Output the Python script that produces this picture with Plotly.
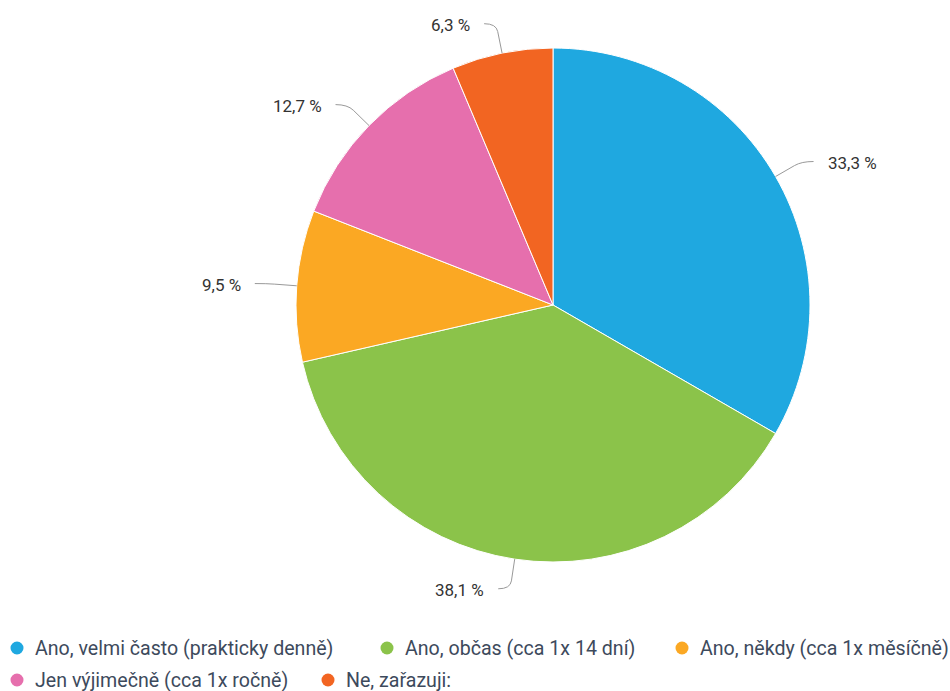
import math
import plotly.graph_objects as go

# ---- data ----
categories = [
    "Ano, velmi často (prakticky denně)",
    "Ano, občas (cca 1x 14 dní)",
    "Ano, někdy (cca 1x měsíčně)",
    "Jen výjimečně (cca 1x ročně)",
    "Ne, zařazuji:",
]
counts = [21, 24, 6, 8, 4]
colors = ["#1fa8e0", "#8bc34a", "#fba823", "#e66fad", "#f26522"]

W, H = 950, 691
CX, CY, R = 553, 305, 257  # pie centre / radius in pixels

# legend layout (pixels: circle centre x, row y)
legend_pos = [(17, 648), (387, 648), (682, 648), (17, 680), (328, 680)]

def px2paper(x, y):
    return x / W, 1 - y / H

fig = go.Figure()

x0, _ = px2paper(CX - R, 0)
x1, _ = px2paper(CX + R, 0)
_, y1 = px2paper(0, CY - R)
_, y0 = px2paper(0, CY + R)

fig.add_trace(go.Pie(
    labels=categories, values=counts, sort=False, direction="clockwise",
    rotation=0, marker=dict(colors=colors, line=dict(color="white", width=1)),
    textinfo="none", hoverinfo="label+percent", showlegend=False,
    domain=dict(x=[x0, x1], y=[y0, y1]),
))

FONT = "Roboto"
total = sum(counts)
shapes, annotations = [], []

# outside labels with leader lines
cum = 0
for v in counts:
    mid = (cum + v / 2) / total * 2 * math.pi
    cum += v
    sx, sy = math.sin(mid), -math.cos(mid)
    px_, py_ = CX + R * sx, CY + R * sy
    ex, ey = CX + (R + 30) * sx, CY + (R + 30) * sy
    side = 1 if sx >= 0 else -1
    hx = ex + 12 * side
    bx, by = CX + (R + 22) * sx, CY + (R + 22) * sy
    p = [px2paper(px_, py_), px2paper(bx, by), px2paper(ex, ey), px2paper(hx, ey)]
    path = (f"M {p[0][0]},{p[0][1]} L {p[1][0]},{p[1][1]} "
            f"Q {p[2][0]},{p[2][1]} {p[3][0]},{p[3][1]}")
    shapes.append(dict(type="path", xref="paper", yref="paper", path=path,
                       line=dict(color="#999999", width=1)))
    tx, ty = px2paper(hx + 12 * side, ey + 1)
    pct = f"{v / total * 100:.1f}".replace(".", ",") + " %"
    annotations.append(dict(
        x=tx, y=ty, xref="paper", yref="paper", text=pct, showarrow=False,
        xanchor="left" if side > 0 else "right", yanchor="middle",
        font=dict(family=FONT, size=17, color="#333333"),
    ))

# manual legend with circle symbols
for lab, col, (lx, ly) in zip(categories, colors, legend_pos):
    a0, b0 = px2paper(lx - 6.5, ly - 6.5)
    a1, b1 = px2paper(lx + 6.5, ly + 6.5)
    shapes.append(dict(type="circle", xref="paper", yref="paper",
                       x0=a0, x1=a1, y0=b1, y1=b0,
                       fillcolor=col, line=dict(width=0)))
    tx, ty = px2paper(lx + 16, ly)
    annotations.append(dict(
        x=tx, y=ty, xref="paper", yref="paper", text=lab, showarrow=False,
        xanchor="left", yanchor="middle",
        font=dict(family=FONT, size=19.6, color="#3d4a5c"),
    ))

fig.update_layout(
    width=W, height=H, margin=dict(l=0, r=0, t=0, b=0),
    paper_bgcolor="white", plot_bgcolor="white",
    shapes=shapes, annotations=annotations,
    showlegend=False,
)

fig.write_html(
    "out.html",
    config={"displayModeBar": False},
    post_script="document.body.style.margin='0';document.body.style.overflow='hidden';",
)
